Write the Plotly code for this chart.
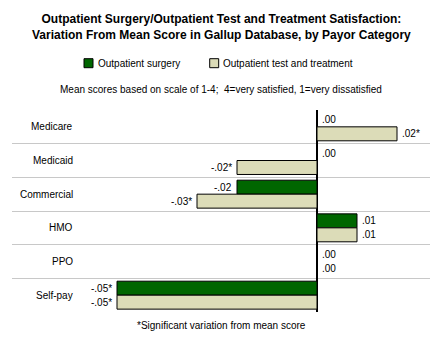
import plotly.graph_objects as go

categories = ["Medicare", "Medicaid", "Commercial", "HMO", "PPO", "Self-pay"]
surgery = [0.00, 0.00, -0.02, 0.01, 0.00, -0.05]
surgery_sig = [False, False, False, False, False, True]
test_treat = [0.02, -0.02, -0.03, 0.01, 0.00, -0.05]
test_sig = [True, True, True, False, False, True]
series_names = ["Outpatient surgery", "Outpatient test and treatment"]

GREEN = "#006600"
BEIGE = "#DCDCB8"
FONT = "Liberation Sans, Arial, sans-serif"

def fmt(v, sig):
    s = f"{abs(v):.2f}".lstrip("0")
    if v < 0:
        s = "-" + s
    return s + ("*" if sig else "")

def px_x(px):
    return (px - 12) / 418.0

def px_y(py):
    return (312 - py) / 202.0

pos = list(range(len(categories)))
fig = go.Figure()
fig.add_trace(go.Bar(y=pos, x=surgery, orientation="h", name=series_names[0],
                     marker=dict(color=GREEN, line=dict(color="black", width=1)),
                     hoverinfo="skip"))
fig.add_trace(go.Bar(y=pos, x=test_treat, orientation="h", name=series_names[1],
                     marker=dict(color=BEIGE, line=dict(color="black", width=1)),
                     hoverinfo="skip"))

half = (1 - 0.17) / 4
for vals, sigs, off in [(surgery, surgery_sig, -half), (test_treat, test_sig, half)]:
    for p, v, s in zip(pos, vals, sigs):
        neg = v < 0
        fig.add_annotation(x=v, xref="x", y=p + off, yref="y", text=fmt(v, s),
                           showarrow=False, xanchor="right" if neg else "left",
                           yanchor="middle", xshift=-3 if neg else 3,
                           font=dict(family=FONT, size=10, color="black"))

for i, c in enumerate(categories):
    fig.add_annotation(x=0.151, xref="paper", y=i, yref="y", text=c, showarrow=False,
                       xanchor="right", yanchor="middle",
                       font=dict(family=FONT, size=10, color="black"))

# legend (drawn manually for compact spacing)
for (sx, tx), col, name in zip([(84, 96), (209.7, 221)], [GREEN, BEIGE], series_names):
    fig.add_shape(type="rect", xref="paper", yref="paper",
                  x0=px_x(sx), x1=px_x(sx + 9), y0=px_y(67.7), y1=px_y(58.7),
                  fillcolor=col, line=dict(color="black", width=1))
    fig.add_annotation(x=px_x(tx), xref="paper", y=px_y(63), yref="paper",
                       xanchor="left", yanchor="middle", text=name, showarrow=False,
                       font=dict(family=FONT, size=10, color="black"))

fig.add_annotation(x=0.5, xref="paper", y=1.411, yref="paper", yanchor="middle",
                   text="<b>Outpatient Surgery/Outpatient Test and Treatment Satisfaction:<br>Variation From Mean Score in Gallup Database, by Payor Category</b>",
                   showarrow=False, font=dict(family=FONT, size=12, color="black"))
fig.add_annotation(x=0.5, xref="paper", y=px_y(89.5), yref="paper", yanchor="middle",
                   text="Mean scores based on scale of 1-4;  4=very satisfied, 1=very dissatisfied",
                   showarrow=False, font=dict(family=FONT, size=10, color="black"))
fig.add_annotation(x=0.5, xref="paper", y=px_y(325.5), yref="paper", yanchor="middle",
                   text="*Significant variation from mean score",
                   showarrow=False, font=dict(family=FONT, size=10, color="black"))

fig.update_layout(
    width=440, height=340,
    margin=dict(l=12, r=10, t=110, b=28),
    paper_bgcolor="white", plot_bgcolor="white",
    barmode="group", bargap=0.17, bargroupgap=0,
    showlegend=False,
    xaxis=dict(range=[-0.07625, 0.02825], showgrid=False, showticklabels=False, ticks="",
               zeroline=True, zerolinecolor="black", zerolinewidth=1.5, fixedrange=True),
    yaxis=dict(range=[5.5, -0.5], tickvals=[0.5, 1.5, 2.5, 3.5, 4.5], showticklabels=False,
               ticks="", showgrid=True, gridcolor="#C8C8C8", gridwidth=1, zeroline=False),
)

fig.write_html("out.html")
